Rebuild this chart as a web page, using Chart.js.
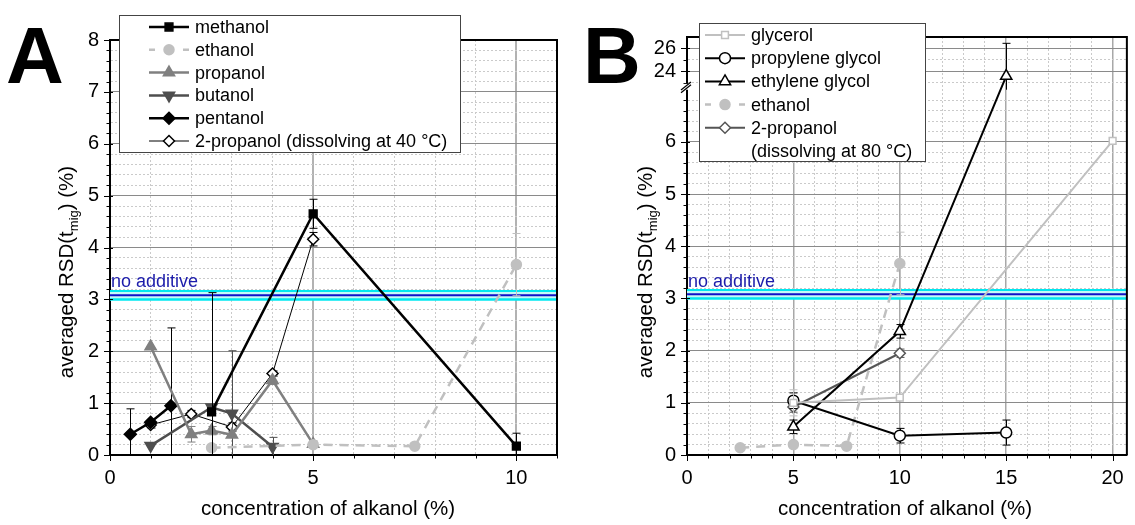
<!DOCTYPE html>
<html lang="en">
<head>
<meta charset="UTF-8">
<title>averaged RSD(t_mig) vs concentration of alkanol</title>
<script src="https://cdn.jsdelivr.net/npm/chart.js"></script>
<style>
  body { margin: 0; background: #fff; }
  .panel { position: absolute; top: 0; height: 525px; }
  #panelA { left: 0; width: 568px; }
  #panelB { left: 568px; width: 567px; }
</style>
</head>
<body>
<div class="panel" id="panelA"><canvas id="chartA"></canvas></div>
<div class="panel" id="panelB"><canvas id="chartB"></canvas></div>
<script>
// ---------- panel A data (x = concentration of alkanol %, y = RSD %) ----------
const methanolX = [2.5, 5, 10];
const methanolY = [0.83, 4.65, 0.17];
const methanolErr = [2.3, 0.28, 0.25];

const ethanolX = [2.5, 5, 7.5, 10];
const ethanolY = [0.14, 0.20, 0.17, 3.67];
const ethanolErr = [null, null, null, 0.6];

const propanolX = [1, 2, 2.5, 3, 4, 5];
const propanolY = [2.09, 0.40, 0.47, 0.39, 1.44, 0.21];
const propanolErr = [null, 0.15, 0.08, null, 0.08, 0.06];

const butanolX = [1, 2.5, 3, 4];
const butanolY = [0.18, 0.92, 0.80, 0.16];
const butanolErr = [null, null, 1.21, 0.18];

const pentanolX = [0.5, 1, 1.5];
const pentanolY = [0.40, 0.63, 0.95];
const pentanolErr = [0.49, null, 1.5];

const iso40X = [1, 2, 3, 4, 5];
const iso40Y = [0.58, 0.79, 0.54, 1.57, 4.16];
const iso40Err = [0.06, 0.07, 0.08, 0.05, 0.13];

// ---------- panel B data ----------
const glycerolX = [5, 10, 20];
const glycerolY = [1.0, 1.1, 6.02];
const glycerolErr = [0.25, null, null];

const propGlycolX = [5, 10, 15];
const propGlycolY = [1.04, 0.37, 0.43];
const propGlycolErr = [0.15, 0.14, 0.24];

const ethGlycolX = [5, 10, 15];
const ethGlycolY = [0.54, 2.37, 23.6];
const ethGlycolErr = [0.13, 0.13, 2.85];

const iso80X = [5, 10];
const iso80Y = [0.92, 1.95];
const iso80Err = [0.1, 0.08];

// reference without additive (mean and band)
const noAddMean = 3.08;
const noAddLow = 3.0;
const noAddHigh = 3.16;

// axis ticks
const xMajorA = [0, 5, 10];
const yMajorA = [0, 1, 2, 3, 4, 5, 6, 7, 8];
const xMajorB = [0, 5, 10, 15, 20];
const yMajorB = [0, 1, 2, 3, 4, 5, 6, 24, 26];
const yMinorUpperB = [23, 25];

const FONT = "'Liberation Sans', Arial, sans-serif";
Chart.defaults.font.family = FONT;
Chart.defaults.color = '#000';

// broken y axis of panel B: 0..7 linear, then 24 drawn at 7.35 with a compressed step
const BREAK_LOW = 7.0, UPPER_REF = 24, UPPER_POS = 7.35, UPPER_K = 0.22;
function toB(v) {
  if (v == null) return null;
  if (v <= BREAK_LOW) return v;
  return Math.max(UPPER_POS + (v - UPPER_REF) * UPPER_K, BREAK_LOW);
}
const ident = v => v;

function near(list, v) {
  return v != null && list.some(m => Math.abs(m - v) < 1e-6);
}

function pts(xs, ys, map) {
  return xs.map((x, i) => ({ x: x, y: map(ys[i]) }));
}

function series(label, xs, ys, errs, style, map) {
  return Object.assign({
    label: label,
    data: pts(xs, ys, map),
    errors: errs,
    rawY: ys,
    tension: 0,
    fill: false,
    borderWidth: 2.5,
    pointBorderWidth: 1.5,
    pointRotation: 0
  }, style);
}

function bandSets(xMax) {
  const bx = [0, xMax];
  return [
    { label: '_mean', data: pts(bx, [noAddMean, noAddMean], ident), borderColor: '#1010c8', borderWidth: 2, pointRadius: 0, fill: false },
    { label: '_high', data: pts(bx, [noAddHigh, noAddHigh], ident), borderColor: '#00e8f0', borderWidth: 2, pointRadius: 0, fill: false },
    { label: '_low', data: pts(bx, [noAddLow, noAddLow], ident), borderColor: '#00e8f0', borderWidth: 2.5, pointRadius: 0, fill: '-1', backgroundColor: '#c4f8f8' }
  ];
}

// styles
const sMethanol = { borderColor: '#000', pointStyle: 'rect', pointRadius: 5.5, pointBackgroundColor: '#000', pointBorderColor: '#000' };
const sEthanol = { borderColor: '#c0c0c0', borderDash: [9, 7], pointStyle: 'circle', pointRadius: 5, pointBackgroundColor: '#c0c0c0', pointBorderColor: '#c0c0c0', legendDash: [6, 28] };
const sPropanol = { borderColor: '#808080', pointStyle: 'triangle', pointRadius: 6.5, pointBackgroundColor: '#808080', pointBorderColor: '#808080' };
const sButanol = { borderColor: '#4e4e4e', pointStyle: 'triangle', pointRotation: 180, pointRadius: 6.5, pointBackgroundColor: '#4e4e4e', pointBorderColor: '#4e4e4e' };
const sPentanol = { borderColor: '#000', pointStyle: 'rectRot', pointRadius: 6, pointBackgroundColor: '#000', pointBorderColor: '#000' };
const sIso40 = { borderColor: '#000', borderWidth: 1, pointStyle: 'rectRot', pointRadius: 5.5, pointBackgroundColor: '#fff', pointBorderColor: '#000', pointBorderWidth: 1.5 };

const sGlycerol = { borderColor: '#c0c0c0', borderWidth: 2, pointStyle: 'rect', pointRadius: 4.8, pointBackgroundColor: '#fff', pointBorderColor: '#c0c0c0' };
const sPropGlycol = { borderColor: '#000', borderWidth: 2, pointStyle: 'circle', pointRadius: 5.5, pointBackgroundColor: '#fff', pointBorderColor: '#000' };
const sEthGlycol = { borderColor: '#000', borderWidth: 2, pointStyle: 'triangle', pointRadius: 6.5, pointBackgroundColor: '#fff', pointBorderColor: '#000' };
const sIso80 = { borderColor: '#555', borderWidth: 2, pointStyle: 'rectRot', pointRadius: 5.5, pointBackgroundColor: '#fff', pointBorderColor: '#555' };

// ---------- drawing helpers ----------
function drawYTitle(ctx, cx, cy) {
  ctx.save();
  ctx.translate(cx, cy);
  ctx.rotate(-Math.PI / 2);
  const big = '20.5px ' + FONT, small = '13px ' + FONT;
  const p1 = 'averaged RSD(t', p2 = 'mig', p3 = ') (%)';
  ctx.font = big;
  const w1 = ctx.measureText(p1).width, w3 = ctx.measureText(p3).width;
  ctx.font = small;
  const w2 = ctx.measureText(p2).width;
  let x = -(w1 + w2 + w3) / 2;
  ctx.fillStyle = '#000';
  ctx.textBaseline = 'alphabetic';
  ctx.font = big; ctx.fillText(p1, x, 7); x += w1;
  ctx.font = small; ctx.fillText(p2, x, 12); x += w2;
  ctx.font = big; ctx.fillText(p3, x, 7);
  ctx.restore();
}

function drawLegend(chart, L) {
  const ctx = chart.ctx;
  ctx.save();
  ctx.fillStyle = '#fff';
  ctx.fillRect(L.x, L.y, L.w, L.h);
  ctx.strokeStyle = '#444';
  ctx.lineWidth = 1;
  ctx.strokeRect(L.x + 0.5, L.y + 0.5, L.w, L.h);
  let row = 0;
  L.items.forEach(di => {
    const ds = chart.data.datasets[di];
    const cy = L.y0 + row * L.dy;
    ctx.setLineDash(ds.legendDash || ds.borderDash || []);
    ctx.strokeStyle = ds.borderColor;
    ctx.lineWidth = ds.borderWidth;
    ctx.beginPath();
    ctx.moveTo(L.lx, cy);
    ctx.lineTo(L.lx + 40, cy);
    ctx.stroke();
    ctx.setLineDash([]);
    ctx.fillStyle = ds.pointBackgroundColor;
    ctx.strokeStyle = ds.pointBorderColor;
    ctx.lineWidth = ds.pointBorderWidth;
    if (Chart.helpers && Chart.helpers.drawPoint) {
      Chart.helpers.drawPoint(ctx, {
        pointStyle: ds.pointStyle, rotation: ds.pointRotation || 0,
        radius: ds.pointRadius, borderWidth: ds.pointBorderWidth
      }, L.lx + 20, cy);
    }
    ctx.fillStyle = '#000';
    ctx.font = '18px ' + FONT;
    ctx.textBaseline = 'middle';
    const lines = [].concat(ds.label);
    lines.forEach((t, k) => ctx.fillText(t, L.tx, cy + 1 + k * L.dy));
    row += lines.length;
  });
  ctx.restore();
}

const panelDecor = {
  id: 'panelDecor',
  beforeDatasetDraw(chart, args, o) {
    const ds = chart.data.datasets[args.index];
    if (!ds.errors) return;
    const ctx = chart.ctx, xs = chart.scales.x, ys = chart.scales.y, a = chart.chartArea;
    ctx.save();
    ctx.beginPath();
    ctx.rect(a.left, a.top, a.right - a.left, a.bottom - a.top);
    ctx.clip();
    ctx.strokeStyle = ds.pointBorderColor === '#fff' ? ds.borderColor : (ds.pointBorderColor || ds.borderColor);
    ctx.lineWidth = 1;
    ds.errors.forEach((e, i) => {
      if (e == null) return;
      const v = ds.rawY[i];
      const px = Math.round(xs.getPixelForValue(ds.data[i].x)) + 0.5;
      const lowV = Math.max(v - e, -1);
      const yTop = ys.getPixelForValue(o.map(v + e));
      const yBot = ys.getPixelForValue(o.map(lowV));
      ctx.beginPath();
      ctx.moveTo(px, yTop); ctx.lineTo(px, yBot);
      ctx.moveTo(px - 4, yTop); ctx.lineTo(px + 4, yTop);
      // no lower cap when the value falls inside the axis break
      if (!(o.broken && v > BREAK_LOW && lowV < UPPER_REF - 1)) {
        ctx.moveTo(px - 4, yBot); ctx.lineTo(px + 4, yBot);
      }
      ctx.stroke();
    });
    ctx.restore();
  },
  afterDatasetsDraw(chart, args, o) {
    const ctx = chart.ctx;
    ctx.save();
    ctx.fillStyle = '#1c1cab';
    ctx.font = '18px ' + FONT;
    ctx.textBaseline = 'alphabetic';
    ctx.fillText('no additive', chart.chartArea.left + 1, 287);
    ctx.restore();
  },
  afterDraw(chart, args, o) {
    const ctx = chart.ctx, a = chart.chartArea;
    const xs = chart.scales.x, ys = chart.scales.y;
    ctx.save();
    // frame on top and right
    ctx.strokeStyle = '#000';
    ctx.lineWidth = 2;
    ctx.beginPath();
    ctx.moveTo(a.left - 1, a.top); ctx.lineTo(a.right, a.top); ctx.lineTo(a.right, a.bottom);
    ctx.stroke();
    // tick marks
    ctx.lineWidth = 1;
    xs.ticks.forEach(t => {
      const px = Math.round(xs.getPixelForValue(t.value)) + 0.5;
      const len = near(o.xMajor, t.value) ? 6 : 3.5;
      ctx.beginPath(); ctx.moveTo(px, a.bottom); ctx.lineTo(px, a.bottom + len); ctx.stroke();
    });
    ys.ticks.forEach(t => {
      const py = Math.round(ys.getPixelForValue(t.value)) + 0.5;
      const len = near(o.yMajorDisp, t.value) ? 6 : 3.5;
      ctx.beginPath(); ctx.moveTo(a.left - len, py); ctx.lineTo(a.left + (len > 4 ? 3 : 0), py); ctx.stroke();
    });
    // axis break
    if (o.broken) {
      const y1 = ys.getPixelForValue(BREAK_LOW), y2 = ys.getPixelForValue(toB(23));
      ctx.fillStyle = '#fff';
      ctx.fillRect(a.left - 4, y2 + 1, 7, y1 - y2 - 1);
      ctx.lineWidth = 1.3;
      [y1 - 1, y2 + 3].forEach(yy => {
        ctx.beginPath(); ctx.moveTo(a.left - 6, yy + 4); ctx.lineTo(a.left + 4, yy - 4); ctx.stroke();
      });
    }
    // titles
    drawYTitle(ctx, o.yTitleX, 272);
    ctx.fillStyle = '#000';
    ctx.font = '20.5px ' + FONT;
    ctx.textAlign = 'center';
    ctx.textBaseline = 'middle';
    ctx.fillText('concentration of alkanol (%)', o.xTitleX, 509);
    ctx.textAlign = 'left';
    ctx.textBaseline = 'alphabetic';
    ctx.font = 'bold 80px ' + FONT;
    ctx.fillText(o.letter, o.letterX, 83);
    ctx.restore();
    drawLegend(chart, o.legend);
  }
};

function axisCfg(ticksList, majors, labelFn, majorColor, majorWidth, fit) {
  return {
    type: 'linear',
    min: ticksList[0],
    afterBuildTicks: s => { s.ticks = ticksList.map(v => ({ value: v })); },
    afterFit: fit,
    grid: {
      drawTicks: false,
      color: c => (c.tick && near(majors, c.tick.value)) ? majorColor : '#cacaca',
      lineWidth: c => (c.tick && near(majors, c.tick.value)) ? majorWidth : 1
    },
    border: {
      color: '#000', width: 2,
      dash: c => (c.tick && !near(majors, c.tick.value)) ? [2, 2] : []
    },
    ticks: {
      autoSkip: false, maxRotation: 0, padding: 11,
      font: { size: 20 }, color: '#000',
      callback: labelFn
    }
  };
}

// ---------- panel A ----------
const xTicksA = [];
for (let i = 0; i <= 11; i++) xTicksA.push(i);
const yTicksA = [];
for (let i = 0; i <= 40; i++) yTicksA.push(Math.round(i * 2) / 10);

const xAxisA = axisCfg(xTicksA, xMajorA, v => near(xMajorA, v) ? String(v) : '', '#b2b2b2', 2, s => { s.height = 70; });
xAxisA.max = 11;
const yAxisA = axisCfg(yTicksA, yMajorA, v => near(yMajorA, v) ? String(Math.round(v)) : '', '#8a8a8a', 1, s => { s.width = 110; });
yAxisA.max = 8;

new Chart(document.getElementById('chartA'), {
  type: 'line',
  data: {
    datasets: [
      series('methanol', methanolX, methanolY, methanolErr, sMethanol, ident),
      series('ethanol', ethanolX, ethanolY, ethanolErr, sEthanol, ident),
      series('propanol', propanolX, propanolY, propanolErr, sPropanol, ident),
      series('butanol', butanolX, butanolY, butanolErr, sButanol, ident),
      series('pentanol', pentanolX, pentanolY, pentanolErr, sPentanol, ident),
      series('2-propanol (dissolving at 40 °C)', iso40X, iso40Y, iso40Err, sIso40, ident)
    ].concat(bandSets(11))
  },
  options: {
    responsive: true,
    maintainAspectRatio: false,
    animation: false,
    events: [],
    layout: { padding: { left: 0, right: 11, top: 40, bottom: 0 } },
    scales: { x: xAxisA, y: yAxisA },
    plugins: {
      legend: { display: false },
      tooltip: { enabled: false },
      panelDecor: {
        map: ident, broken: false,
        xMajor: xMajorA, yMajorDisp: yMajorA,
        yTitleX: 66, xTitleX: 328, letter: 'A', letterX: 6,
        legend: { x: 119, y: 15, w: 341, h: 137, y0: 27, dy: 22.8, lx: 149, tx: 195, items: [0, 1, 2, 3, 4, 5] }
      }
    }
  },
  plugins: [panelDecor]
});

// ---------- panel B ----------
const xTicksB = [];
for (let i = 0; i <= 20; i++) xTicksB.push(i);
const yTicksB = [];
for (let i = 0; i <= 34; i++) yTicksB.push(Math.round(i * 2) / 10);
const yUpperB = yMinorUpperB.concat([24, 26]).sort((p, q) => p - q);
yUpperB.forEach(v => yTicksB.push(toB(v)));
const yMajorDispB = yMajorB.map(toB);

function labelB(v) {
  const k = yMajorDispB.findIndex(m => Math.abs(m - v) < 1e-6);
  return k >= 0 ? String(yMajorB[k]) : '';
}

const xAxisB = axisCfg(xTicksB, xMajorB, v => near(xMajorB, v) ? String(v) : '', '#a8a8a8', 1.5, s => { s.height = 70; });
xAxisB.max = 20.67;
const yAxisB = axisCfg(yTicksB, yMajorDispB, labelB, '#8a8a8a', 1, s => { s.width = 119; });
yAxisB.max = toB(27);

new Chart(document.getElementById('chartB'), {
  type: 'line',
  data: {
    datasets: [
      series('glycerol', glycerolX, glycerolY, glycerolErr, sGlycerol, toB),
      series('propylene glycol', propGlycolX, propGlycolY, propGlycolErr, sPropGlycol, toB),
      series('ethylene glycol', ethGlycolX, ethGlycolY, ethGlycolErr, sEthGlycol, toB),
      series('ethanol', ethanolX, ethanolY, ethanolErr, sEthanol, toB),
      series(['2-propanol', '(dissolving at 80 °C)'], iso80X, iso80Y, iso80Err, sIso80, toB)
    ].concat(bandSets(20.67))
  },
  options: {
    responsive: true,
    maintainAspectRatio: false,
    animation: false,
    events: [],
    layout: { padding: { left: 0, right: 3, top: 37, bottom: 0 } },
    scales: { x: xAxisB, y: yAxisB },
    plugins: {
      legend: { display: false },
      tooltip: { enabled: false },
      panelDecor: {
        map: toB, broken: true,
        xMajor: xMajorB, yMajorDisp: yMajorDispB,
        yTitleX: 77, xTitleX: 337, letter: 'B', letterX: 15,
        legend: { x: 131, y: 23, w: 226, h: 138, y0: 35, dy: 23.2, lx: 137, tx: 183, items: [0, 1, 2, 3, 4] }
      }
    }
  },
  plugins: [panelDecor]
});
</script>
</body>
</html>
